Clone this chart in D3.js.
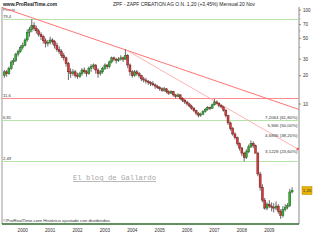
<!DOCTYPE html>
<html><head><meta charset="utf-8">
<script src="https://cdn.jsdelivr.net/npm/d3@7"></script>
<style>html,body{margin:0;padding:0;background:#fff;overflow:hidden}svg{display:block}</style>
</head><body>
<svg id="c" width="320" height="240"></svg>
<script>
// ---- data (monthly OHLC, May 1999 .. Nov 2009) ----
const startMonth = [1999, 4]; // May 1999 (JS month index)
const open = [
 20,22,21,24,28,29,34,36,
 40,42,48,58,62,68,64,60,55,52,47,44,
 45,48,46,42,38,36,33,31,27,22,21,22,
 20,19.5,21,23,22,21,24,25,26,23,21,22,
 24,26,25,28,31,30,29,30,31,30,33,26,
 22,20,22,21,20,18.5,18,17.5,17,16.5,16,15.5,
 15,14.5,14,14.5,13.5,13,13.5,12.5,12,12.5,11.5,11,
 10.5,10,9.5,9,8.5,8,7.6,7.8,8.3,8.8,9.2,9.0,
 9.8,10.5,10.2,9.6,9.3,8.6,7.5,6.3,5.5,4.8,4.4,3.8,
 3.4,3.0,2.7,3.1,3.5,3.8,3.6,3.0,1.8,1.3,0.95,0.78,
 0.86,0.82,0.8,0.78,0.82,0.72,0.65,0.75,0.8,0.83,1.16];
const high = [
 23,23,25,29,31,35,38,42,
 45,50,62,66,80,74,68,63,58,54,50,48,
 52,50,48,45,41,38,35,32,28,24,23.5,23,
 21.5,22,24,24.5,23,25,26.5,27,26.5,24,23,25,
 27,26.5,29,32,32,31,31.5,33,32,38,34,27,
 23,23,23,22,20.5,19.5,19,18,17.5,17.5,16.5,16,
 15.5,15,15.2,14.8,14,14,13.8,12.8,13,12.8,11.8,11.3,
 10.8,10.3,9.8,9.3,8.7,8.2,8.1,8.6,9.1,9.5,9.4,10.1,
 11.29,10.9,10.4,9.9,9.5,8.8,7.7,6.5,5.7,5.0,4.5,3.9,
 3.5,3.1,3.3,3.7,4.1,4.0,3.7,3.1,1.9,1.4,1.0,0.9,
 0.95,0.9,0.88,0.92,0.86,0.76,0.82,0.86,0.88,1.25,1.30];
const low = [
 19,19.5,20.5,23,26,28,32,35,
 38,41,46,52,58,60,56,52,48,44,40,41,
 43,43,39,36,34,31,29,25,18,19,20,19,
 18.5,19,20,21,19.5,20.5,22,23.5,21,19,20,21,
 23,23.5,24,27,28.5,27,28,29,28,29.5,24,20,
 19,19.5,20,19,17.5,17,16.5,16,15.5,15.5,14.5,14.5,
 13.8,13.5,13.5,13,12.5,12.8,12,11.5,11.8,11,10.5,10,
 9.6,9.2,8.7,8.2,7.6,7.2,7.3,7.6,8.1,8.5,8.6,8.9,
 9.6,9.9,9.2,9.0,8.3,7.2,6.0,5.2,4.6,4.2,3.6,3.2,
 2.8,2.45,2.6,3.0,3.4,3.4,3.0,1.7,1.2,0.9,0.75,0.74,
 0.78,0.72,0.7,0.74,0.68,0.60,0.62,0.72,0.76,0.80,1.12];
const close = [
 22,21,24,28,29,34,36,40,
 42,48,58,62,68,64,60,55,52,47,44,45,
 48,46,42,38,36,33,31,27,22,21,22,20,
 19.5,21,23,22,21,24,25,26,23,21,22,24,
 26,25,28,31,30,29,30,31,30,33,26,22,
 20,22,21,20,18.5,18,17.5,17,16.5,16,15.5,15,
 14.5,14,14.5,13.5,13,13.5,12.5,12,12.5,11.5,11,10.5,
 10,9.5,9,8.5,8,7.6,7.8,8.3,8.8,9.2,9.0,9.8,
 10.5,10.2,9.6,9.3,8.6,7.5,6.3,5.5,4.8,4.4,3.8,3.4,
 3.0,2.7,3.1,3.5,3.8,3.6,3.0,1.8,1.3,0.95,0.78,0.86,
 0.82,0.8,0.78,0.82,0.72,0.65,0.75,0.8,0.83,1.16,1.20];

const years = [2000,2001,2002,2003,2004,2005,2006,2007,2008,2009];
const axisTicks = [100,70,50,30,20,10];
const minorTicks = [90,80,60,40];
const hLines = [ {v:79.4, label:"79,4", kind:"g"}, {v:11.6, label:"11,6", kind:"r"},
                 {v:6.81, label:"6,81", kind:"g"}, {v:2.49, label:"2,49", kind:"g"} ];
const fibLevels = [7.2064, 5.946, 4.6836, 3.1228];
const fibLabels = ["7,2064 (61,80%)","5,946 (50,00%)","4,6836 (38,20%)","3,1228 (23,60%)"];
const trend1 = [[new Date(1999,3,1),106.3],[new Date(2010,1,1),8.74]];
const trend2 = [[new Date(2003,9,1),38],[new Date(2010,0,15),3.32]];
const lastPrice = 1.20;
const titleText = "ZPF - ZAPF CREATION AG O.N.     1,20 (+3,45%)     Mensual  20 Nov";

// ---- drawing ----
const svg = d3.select("#c");
const x = d3.scaleTime().domain([new Date(2000,0,1), new Date(2009,0,1)]).range([22.7, 269.3]);
const y = d3.scaleLog().domain([100,10]).range([10,104]);
const L = 2, R = 299, T = 7, B = 224;

const data = close.map((c,i)=>({d:new Date(startMonth[0], startMonth[1]+i, 1), o:open[i], h:high[i], l:low[i], c}));

svg.append("rect").attr("width",320).attr("height",240).attr("fill","#fff");

// header
svg.append("text").attr("x",3).attr("y",6).attr("font-family","Liberation Sans, Arial").attr("font-weight","bold")
  .attr("font-size",5.6).attr("fill","#222").attr("textLength",54).attr("lengthAdjust","spacingAndGlyphs").text("www.ProRealTime.com");
svg.append("text").attr("x",113).attr("y",6).attr("font-family","Liberation Sans, Arial")
  .attr("font-size",5.2).attr("fill","#222").attr("textLength",142).attr("lengthAdjust","spacingAndGlyphs").text(titleText);
svg.append("text").attr("x",3).attr("y",11).attr("font-family","Liberation Sans, Arial")
  .attr("font-size",4.2).attr("fill","#333").text("Precio");

// frame
svg.append("line").attr("x1",L).attr("x2",L).attr("y1",T).attr("y2",B).attr("stroke","#999").attr("stroke-width",1);
svg.append("line").attr("x1",R).attr("x2",R).attr("y1",T).attr("y2",B).attr("stroke","#888").attr("stroke-width",1);

// horizontal lines
hLines.forEach(h=>{
  const yy = Math.round(y(h.v))+0.5;
  svg.append("line").attr("x1",L).attr("x2",R).attr("y1",yy).attr("y2",yy)
    .attr("stroke", h.kind==="g" ? "#b4e4aa" : "#ff8c8c").attr("stroke-width",1.2);
  svg.append("text").attr("x",3).attr("y",yy-1.5).attr("font-family","Liberation Sans, Arial")
    .attr("font-size",4.2).attr("fill","#333").text(h.label);
});

// watermark
svg.append("text").attr("x",73).attr("y",180).attr("font-family","Liberation Mono, DejaVu Sans Mono, monospace")
  .attr("font-size",8).attr("fill","#a8a8a8").attr("textLength",83).attr("lengthAdjust","spacingAndGlyphs")
  .attr("text-decoration","underline").text("El blog de Gallardo");

// trend lines
const ln = d3.line().x(d=>x(d[0])).y(d=>y(d[1]));
svg.append("path").attr("d",ln(trend1)).attr("fill","none").attr("stroke","#ff7474").attr("stroke-width",1);
svg.append("path").attr("d",ln(trend2)).attr("fill","none").attr("stroke","#ffa0a0").attr("stroke-width",0.8);
svg.append("circle").attr("cx",x(trend2[1][0])).attr("cy",y(trend2[1][1])).attr("r",1.3).attr("fill","#ff5050");

// fib labels
fibLevels.forEach((v,i)=>{
  svg.append("text").attr("x",297.5).attr("y",y(v)+1.6).attr("text-anchor","end")
    .attr("font-family","Liberation Sans, Arial").attr("font-size",4.4).attr("fill","#333").text(fibLabels[i]);
});

// candles
const g = svg.append("g");
data.forEach(d=>{
  const cx = x(d.d);
  g.append("line").attr("x1",cx).attr("x2",cx).attr("y1",y(d.h)).attr("y2",y(d.l)).attr("stroke","#444").attr("stroke-width",0.8);
  const up = d.c >= d.o;
  const y0 = y(Math.max(d.o,d.c)), y1 = y(Math.min(d.o,d.c));
  g.append("rect").attr("x",cx-1).attr("width",2).attr("y",y0).attr("height",Math.max(0.8,y1-y0))
    .attr("fill", up ? "#35b035" : "#d23c3c").attr("stroke", up ? "#1d5a1d":"#6a1818").attr("stroke-width",0.45);
});

// bottom axis
svg.append("line").attr("x1",L).attr("x2",R).attr("y1",B).attr("y2",B).attr("stroke","#2d6b2d").attr("stroke-width",1.4);
years.forEach(yr=>{
  svg.append("text").attr("x",x(new Date(yr,0,1))).attr("y",232).attr("text-anchor","middle")
    .attr("font-family","Liberation Sans, Arial").attr("font-size",4.6).attr("fill","#333").text(yr);
});
svg.append("text").attr("x",3).attr("y",222).attr("font-family","Liberation Sans, Arial")
  .attr("font-size",4.2).attr("fill","#333").attr("textLength",107).attr("lengthAdjust","spacingAndGlyphs")
  .text("©ProRealTime.com  Histórico ajustado con dividendos");

// right axis
axisTicks.forEach(v=>{
  svg.append("line").attr("x1",R).attr("x2",R+2).attr("y1",y(v)).attr("y2",y(v)).attr("stroke","#666").attr("stroke-width",0.7);
  svg.append("text").attr("x",R+4).attr("y",y(v)+1.6).attr("font-family","Liberation Sans, Arial")
    .attr("font-size",4.6).attr("fill","#333").text(v);
});
minorTicks.forEach(v=>{
  svg.append("line").attr("x1",R).attr("x2",R+1.5).attr("y1",y(v)).attr("y2",y(v)).attr("stroke","#888").attr("stroke-width",0.6);
});

// last price box
const py = y(lastPrice);
svg.append("rect").attr("x",302).attr("y",py-4).attr("width",10).attr("height",8).attr("fill","#e8b400").attr("stroke","#b88a00").attr("stroke-width",0.5);
svg.append("text").attr("x",307).attr("y",py+1.6).attr("text-anchor","middle").attr("font-family","Liberation Sans, Arial")
  .attr("font-size",4.4).attr("fill","#333").text("1,20");
</script>
</body></html>
